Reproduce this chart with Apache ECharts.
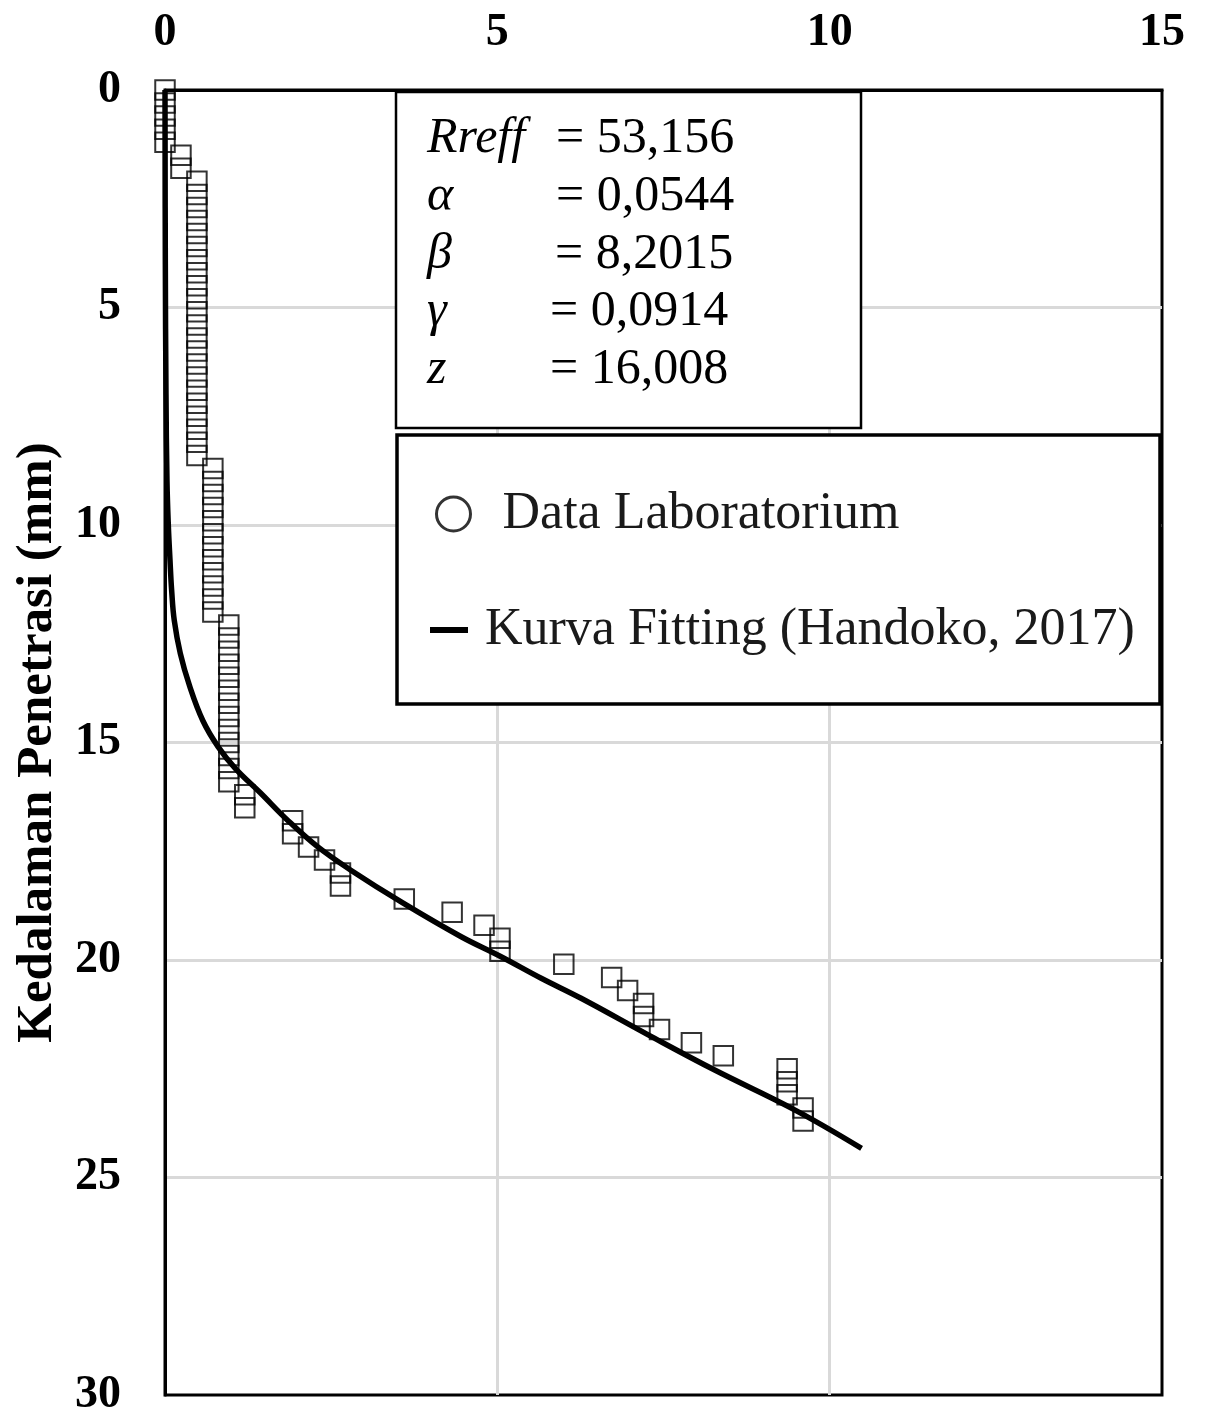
<!DOCTYPE html>
<html><head><meta charset="utf-8">
<script src="https://cdn.jsdelivr.net/npm/echarts@6/dist/echarts.min.js"></script>
<style>html,body{margin:0;padding:0;background:#fff;overflow:hidden}#c{width:1207px;height:1412px}</style>
</head><body><div id="c"></div>
<script>
// ---- data ----
const xTickLabels = [0, 5, 10, 15];
const yTickLabels = [0, 5, 10, 15, 20, 25, 30];

// Data Laboratorium: depth (mm) and horizontal value
const labDepth = [
  0, 0.3, 0.6, 0.9, 1.2,
  1.5, 1.8,
  2.1, 2.4, 2.7, 3.0, 3.3, 3.6, 3.9, 4.2, 4.5, 4.8, 5.1, 5.4, 5.7, 6.0, 6.3, 6.6, 6.9, 7.2, 7.5, 7.8, 8.1, 8.4,
  8.7, 9.0, 9.3, 9.6, 9.9, 10.2, 10.5, 10.8, 11.1, 11.4, 11.7, 12.0,
  12.3, 12.6, 12.9, 13.2, 13.5, 13.8, 14.1, 14.4, 14.7, 15.0, 15.3, 15.6, 15.9,
  16.2, 16.5,
  16.8, 17.1, 17.4, 17.7, 18.0, 18.3, 18.6, 18.9, 19.2, 19.5, 19.8, 20.1, 20.4, 20.7,
  21.0, 21.3, 21.6, 21.9, 22.2, 22.5, 22.8, 23.1, 23.4, 23.7
];
const labX = [
  0, 0, 0, 0, 0,
  0.24, 0.24,
  0.48, 0.48, 0.48, 0.48, 0.48, 0.48, 0.48, 0.48, 0.48, 0.48, 0.48, 0.48, 0.48, 0.48, 0.48, 0.48, 0.48, 0.48, 0.48, 0.48, 0.48, 0.48,
  0.72, 0.72, 0.72, 0.72, 0.72, 0.72, 0.72, 0.72, 0.72, 0.72, 0.72, 0.72,
  0.96, 0.96, 0.96, 0.96, 0.96, 0.96, 0.96, 0.96, 0.96, 0.96, 0.96, 0.96, 0.96,
  1.20, 1.20,
  1.92, 1.92, 2.16, 2.40, 2.64, 2.64, 3.60, 4.32, 4.80, 5.04, 5.04, 6.00, 6.72, 6.96,
  7.20, 7.20, 7.44, 7.92, 8.40, 9.36, 9.36, 9.36, 9.60, 9.60
];

// Kurva Fitting (Handoko, 2017): points
const fitDepth = [0, 4, 7, 9.0, 10.0, 10.8, 11.5, 12.2, 12.95, 13.7, 14.5, 15.1, 15.6, 16.15, 16.78, 17.39, 17.93, 18.7, 19.46, 19.92, 20.42, 20.88, 21.72, 22.53, 23.45, 24.33];
const fitX     = [0, 0.005, 0.015, 0.03, 0.05, 0.075, 0.1, 0.14, 0.23, 0.37, 0.57, 0.8, 1.06, 1.43, 1.84, 2.29, 2.79, 3.59, 4.45, 5.05, 5.66, 6.26, 7.27, 8.27, 9.48, 10.48];

const paramNames  = ['Rreff', 'α', 'β', 'γ', 'z'];
const paramValues = ['53,156', '0,0544', '8,2015', '0,0914', '16,008'];

const seriesNames = ['Data Laboratorium', 'Kurva Fitting (Handoko, 2017)'];
const yTitle = 'Kedalaman Penetrasi (mm)';

// ---- build ----
const FF = "'Liberation Serif', 'Times New Roman', Times, serif";
const labData = labX.map((x, i) => [x, labDepth[i]]);
const fitData = fitX.map((x, i) => [x, fitDepth[i]]);

const eqX = [556, 556, 555, 550, 550];
const rowY = [139, 197, 255, 312, 370];
const textEls = [];
paramNames.forEach((n, i) => {
  textEls.push({ type: 'text', x: 427, y: rowY[i], z: 12,
    style: { text: n, font: 'italic 50px ' + FF, fill: '#000', align: 'left', verticalAlign: 'middle', textAlign: 'left', textVerticalAlign: 'middle' } });
  textEls.push({ type: 'text', x: eqX[i], y: rowY[i], z: 12,
    style: { text: '= ' + paramValues[i], font: '50px ' + FF, fill: '#000', align: 'left', verticalAlign: 'middle', textAlign: 'left', textVerticalAlign: 'middle' } });
});

const chart = echarts.init(document.getElementById('c'), null, { renderer: 'canvas', width: 1207, height: 1412 });
chart.setOption({
  animation: false,
  backgroundColor: '#fff',
  grid: { left: 165, top: 90, width: 997, height: 1305, show: true, borderColor: '#000', borderWidth: 3,
          backgroundColor: 'rgba(0,0,0,0)', containLabel: false, outerBoundsMode: 'none' },
  xAxis: {
    type: 'value', position: 'top',
    min: xTickLabels[0], max: xTickLabels[xTickLabels.length - 1], interval: xTickLabels[1] - xTickLabels[0],
    axisLine: { show: true, lineStyle: { color: '#000', width: 3 } },
    axisTick: { show: false },
    axisLabel: { margin: 34, fontSize: 46, fontWeight: 'bold', fontFamily: FF, color: '#000' },
    splitLine: { show: true, showMinLine: false, showMaxLine: false, lineStyle: { color: '#d9d9d9', width: 3 } }
  },
  yAxis: {
    type: 'value', inverse: true,
    min: yTickLabels[0], max: yTickLabels[yTickLabels.length - 1], interval: yTickLabels[1] - yTickLabels[0],
    name: yTitle, nameLocation: 'middle', nameRotate: 90, nameGap: 102,
    nameTextStyle: { fontSize: 51, fontWeight: 'bold', fontFamily: FF, color: '#000' },
    axisLine: { show: true, lineStyle: { color: '#000', width: 3 } },
    axisTick: { show: false },
    axisLabel: { margin: 44, fontSize: 46, fontWeight: 'bold', fontFamily: FF, color: '#000' },
    splitLine: { show: true, showMinLine: false, showMaxLine: false, lineStyle: { color: '#d9d9d9', width: 3 } }
  },
  legend: [
    { data: [{ name: seriesNames[0], icon: 'circle' }], orient: 'vertical', left: 435, top: 488, padding: 0,
      itemWidth: 34, itemHeight: 34, selectedMode: false, z: 20,
      itemStyle: { color: 'rgba(0,0,0,0)', borderColor: '#000', borderWidth: 3 },
      textStyle: { fontSize: 52, fontFamily: FF, color: '#1a1a1a', padding: [0, 0, 0, 27] } },
    { data: [{ name: seriesNames[1], icon: 'rect' }], orient: 'vertical', left: 430, top: 604, padding: 0,
      itemWidth: 38, itemHeight: 6, selectedMode: false, z: 20,
      itemStyle: { color: '#000', borderWidth: 0 },
      textStyle: { fontSize: 52, fontFamily: FF, color: '#1a1a1a', padding: [0, 0, 0, 12] } }
  ],
  graphic: [
    { type: 'rect', z: 10, shape: { x: 396, y: 92, width: 465, height: 336 },
      style: { fill: '#fff', stroke: '#000', lineWidth: 2.5 } },
    { type: 'rect', z: 10, shape: { x: 397, y: 435, width: 763, height: 269 },
      style: { fill: '#fff', stroke: '#000', lineWidth: 3.5 } }
  ].concat(textEls),
  series: [
    { name: seriesNames[0], type: 'scatter', data: labData, clip: false,
      symbol: 'rect', symbolSize: 19.5,
      itemStyle: { color: 'rgba(0,0,0,0)', borderColor: '#000', borderWidth: 2 },
      emphasis: { disabled: true }, z: 3 },
    { name: seriesNames[1], type: 'line', data: fitData, smooth: 0.4, showSymbol: false, symbol: 'none',
      lineStyle: { color: '#000', width: 5.5 }, itemStyle: { color: '#000' },
      emphasis: { disabled: true }, z: 4 }
  ]
});
</script></body></html>
